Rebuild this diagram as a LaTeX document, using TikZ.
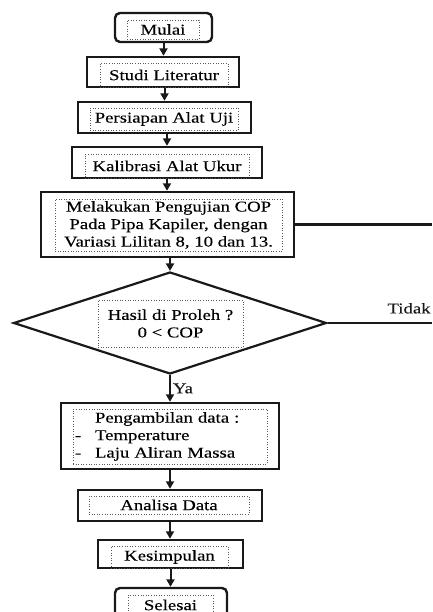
\documentclass[tikz,border=0pt]{standalone}
\usepackage{fontspec}
\setmainfont{Liberation Serif}[FakeStretch=1.25, FakeBold=0.2]
\usetikzlibrary{arrows.meta,positioning,shapes.geometric}
\definecolor{garis}{RGB}{25,25,25}

\begin{document}
\begin{tikzpicture}[x=1pt, y=-1pt,
          every node/.style={font=\fontsize{15}{17.5}\selectfont},
          langkah/.style={rectangle, draw=garis, line width=2.4pt, inner sep=0pt},
          terminal/.style={langkah, rounded corners=5pt},
          pilihan/.style={diamond, draw=garis, line width=2.2pt, inner sep=0pt},
          teks/.style={rectangle, draw=black!65, dotted, line width=0.6pt,
                       inner sep=0pt, align=center},
          panah/.style={-{Triangle[length=7.5pt,width=8pt]}, line width=2pt, garis},
          lurus/.style={line width=2.2pt, garis}
      ]
        \clip (0,0) rectangle (432,612);
        % kotak luar
        \node[terminal, minimum width=97pt, minimum height=29pt]  (mulai)      at (163.5, 27.5) {};
        \node[langkah, minimum width=152pt, minimum height=30pt]  (studi)      at (163, 72) {};
        \node[langkah, minimum width=173pt, minimum height=31pt]  (persiapan)  at (164.5, 117.5) {};
        \node[langkah, minimum width=190pt, minimum height=31pt]  (kalibrasi)  at (167, 162.5) {};
        \node[langkah, minimum width=253pt, minimum height=65pt]  (pengujian)  at (167.5, 224.5) {};
        \node[pilihan, minimum width=313pt, minimum height=102pt] (hasil)      at (170, 323) {};
        \node[langkah, minimum width=218pt, minimum height=66pt]  (data)       at (170, 436) {};
        \node[langkah, minimum width=184pt, minimum height=31pt]  (analisa)    at (170, 505.5) {};
        \node[langkah, minimum width=145pt, minimum height=28pt]  (kesimpulan) at (170.5, 554) {};
        \node[terminal, minimum width=112pt, minimum height=32pt] (selesai)    at (171, 604) {};
        % teks di dalam kotak
        \node[teks, minimum width=72pt, minimum height=19pt]  (mulai-t)      at (163, 29.5) {Mulai};
        \node[teks, minimum width=128pt, minimum height=24pt] (studi-t)      at (164, 75) {Studi Literatur};
        \node[teks, minimum width=148pt, minimum height=22pt] (persiapan-t)  at (164, 119) {Persiapan Alat Uji};
        \node[teks, minimum width=164pt, minimum height=24pt] (kalibrasi-t)  at (167, 166) {Kalibrasi Alat Ukur};
        \node[teks, minimum width=227pt, minimum height=52pt] (pengujian-t)  at (168.5, 225)
             {Melakukan Pengujian COP\\Pada Pipa Kapiler, dengan\\Variasi Lilitan 8, 10 dan 13.};
        \node[teks, minimum width=145pt, minimum height=47pt] (hasil-t)      at (170.5, 323.5)
             {Hasil di Proleh ?\\0 < COP};
        \node[teks, minimum width=194pt, minimum height=55pt, align=left, text width=190pt] (data-t) at (170, 436.5)
             {\makebox[20pt][l]{}Pengambilan data :\\\makebox[20pt][l]{-}Temperature\\\makebox[20pt][l]{-}Laju Aliran Massa};
        \node[teks, minimum width=160pt, minimum height=18pt] (analisa-t)    at (169, 505) {Analisa Data};
        \node[teks, minimum width=117pt, minimum height=22pt] (kesimpulan-t) at (169.5, 557) {Kesimpulan};
        \node[teks, minimum width=85pt, minimum height=20pt]  (selesai-t)    at (170.5, 605) {Selesai};
        % ujung garis di tepi kanan
        \coordinate (kanan) at (432, 0);
        % panah
        \draw[panah] (mulai.south) -- (mulai.south |- studi.north);
        \draw[panah] (persiapan.north |- studi.south) -- (persiapan.north);
        \draw[panah] (kalibrasi.north |- persiapan.south) -- (kalibrasi.north);
        \draw[panah] (kalibrasi.south) -- (kalibrasi.south |- pengujian.north);
        \draw[panah] (hasil.north |- pengujian.south) -- (hasil.north);
        \draw[panah] (hasil.south) -- (hasil.south |- data.north) node[midway, right, inner sep=2pt] {Ya};
        \draw[panah] (data.south) -- (data.south |- analisa.north);
        \draw[panah] (analisa.south) -- (analisa.south |- kesimpulan.north);
        \draw[panah] (kesimpulan.south) -- (kesimpulan.south |- selesai.north);
        \draw[lurus] (pengujian.east) -- (pengujian.east -| kanan);
        \draw[lurus] (hasil.east) -- (hasil.east -| kanan) node[pos=0.78, above=5pt] {Tidak};
\end{tikzpicture}
\end{document}
